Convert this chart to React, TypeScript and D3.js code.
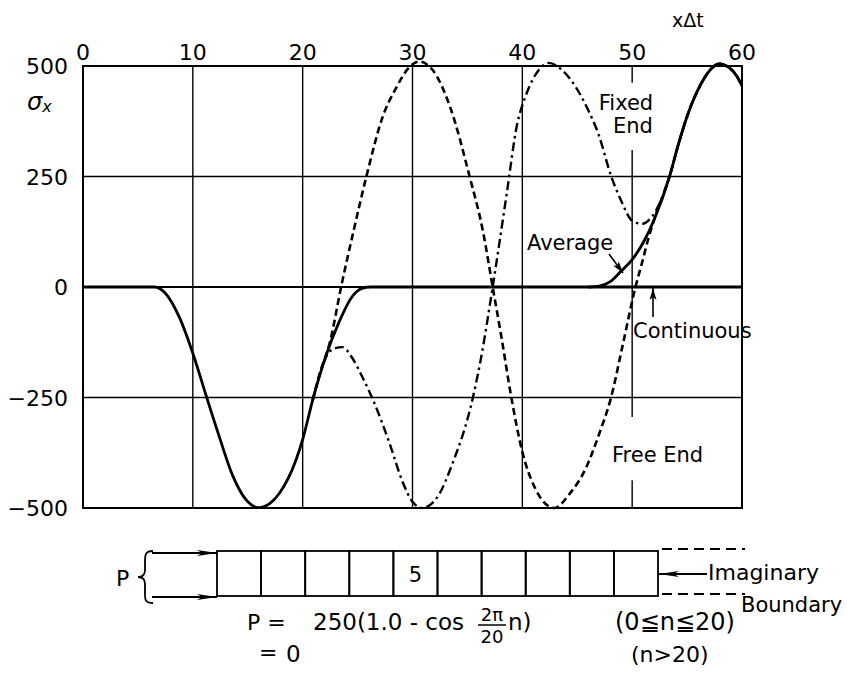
import React from "react";
import * as d3 from "d3";

// axis ticks
const xTicks = [0, 10, 20, 30, 40, 50, 60];
const yTicks = [500, 250, 0, -250, -500];
const yTickLabels = ["500", "250", "0", "\u2212250", "\u2212500"];

// sigma_x vs n (x delta t)
const continuous: [number, number][] = [
  [0, 0], [6.5, 0], [7.5, -14], [8.8, -70], [10, -150], [11.2, -245],
  [12.4, -338], [13.6, -425], [14.8, -480], [16, -499], [17, -490],
  [17.9, -466], [19.4, -391], [20, -345], [20.9, -257], [22.1, -157],
  [23.3, -80], [24.5, -22], [25.4, -3], [26.2, 0], [60, 0],
];

// all three "end" curves share this tail
const sharedTail: [number, number][] = [
  [53.4, 250], [54.2, 322], [55.1, 393], [56.3, 461], [57.2, 494],
  [57.9, 505], [58.8, 497], [59.5, 478], [60, 455],
];

const freeEndHead: [number, number][] = [
  [20.9, -257], [21.5, -200], [22.5, -123], [23.5, 0], [24.6, 123],
  [25.8, 250], [27.3, 386], [28.5, 450], [29.7, 497], [30.6, 510],
  [31.8, 492], [33.4, 409], [35.2, 250], [36.4, 128], [37.3, 0],
  [38.1, -114], [39, -250], [40, -373], [41.2, -457], [42.9, -500],
  [44.3, -468], [45.8, -409], [47, -332], [48.1, -248], [49.1, -136],
  [50.3, 0], [50.9, 55], [51.5, 112], [52.1, 160],
];

const fixedEndHead: [number, number][] = [
  [20.9, -257], [21.6, -195], [22.2, -155], [22.8, -140], [23.6, -136],
  [24.5, -160], [25.4, -202], [26.4, -255], [27.9, -353], [29.1, -441],
  [30, -486], [30.9, -500], [32.4, -470], [33.6, -402], [35.5, -250],
  [36.2, -166], [37.3, 0], [38.6, 215], [39.5, 365], [40.3, 432],
  [41.5, 491], [42.4, 507], [43.6, 491], [44.8, 455], [46, 400],
  [46.9, 348], [48.1, 250], [49, 195], [50, 150], [50.9, 143],
  [51.8, 159], [52.6, 195],
];

const averageHead: [number, number][] = [
  [46, 0], [47, 2], [48, 12], [49, 36], [50, 62], [51, 100], [52, 152],
];

const freeEnd = [...freeEndHead, ...sharedTail];
const fixedEnd = [...fixedEndHead, ...sharedTail];
const average = [...averageHead, ...sharedTail];

// bottom diagram: 10 elements, the 5th is labelled
const elements = d3.range(1, 11);
const labelledElement = 5;

const W = 847;
const H = 682;
const FONT = "'DejaVu Sans', sans-serif";

export default function App() {
  const x = d3.scaleLinear().domain([0, 60]).range([83, 742]);
  const y = d3.scaleLinear().domain([-500, 500]).range([508, 66]);

  const line = d3
    .line<[number, number]>()
    .x((d) => x(d[0]))
    .y((d) => y(d[1]))
    .curve(d3.curveMonotoneX);

  // element strip
  const strip = d3
    .scaleBand<number>()
    .domain(elements)
    .range([217, 658])
    .paddingInner(0);
  const stripTop = 551;
  const stripBot = 596;
  const stripMid = (stripTop + stripBot) / 2;

  // vertical grid at 50 is broken around labels
  const grid50Segments: [number, number][] = [
    [500, 462],
    [310, -294],
    [-437, -500],
  ];

  return (
    <svg
      width={W}
      height={H}
      style={{ position: "absolute", left: 0, top: 0, background: "#fff" }}
      fontFamily={FONT}
    >
      <defs>
        <marker
          id="longHead"
          viewBox="0 0 20 8"
          refX="20"
          refY="4"
          markerWidth="20"
          markerHeight="8"
          markerUnits="userSpaceOnUse"
          orient="auto"
        >
          <path d="M0,1 L20,4 L0,7 L5,4 z" fill="#000" />
        </marker>
        <marker
          id="shortHead"
          viewBox="0 0 12 8"
          refX="12"
          refY="4"
          markerWidth="12"
          markerHeight="8"
          markerUnits="userSpaceOnUse"
          orient="auto"
        >
          <path d="M0,0.5 L12,4 L0,7.5 L3,4 z" fill="#000" />
        </marker>
      </defs>

      <rect width={W} height={H} fill="#fff" />

      {/* grid */}
      {xTicks.slice(1, -1).map((t) =>
        t === 50 ? (
          grid50Segments.map(([a, b], i) => (
            <line
              key={`g50-${i}`}
              x1={x(t)}
              x2={x(t)}
              y1={y(a)}
              y2={y(b)}
              stroke="#000"
              strokeWidth={1.4}
            />
          ))
        ) : (
          <line
            key={`gx${t}`}
            x1={x(t)}
            x2={x(t)}
            y1={y(500)}
            y2={y(-500)}
            stroke="#000"
            strokeWidth={1.4}
          />
        )
      )}
      {yTicks.slice(1, -1).map((t) => (
        <line
          key={`gy${t}`}
          x1={x(0)}
          x2={x(60)}
          y1={y(t)}
          y2={y(t)}
          stroke="#000"
          strokeWidth={t === 0 ? 2.2 : 1.6}
        />
      ))}
      <rect
        x={x(0)}
        y={y(500)}
        width={x(60) - x(0)}
        height={y(-500) - y(500)}
        fill="none"
        stroke="#000"
        strokeWidth={2}
      />

      {/* tick labels */}
      {xTicks.map((t) => (
        <text key={`xt${t}`} x={x(t)} y={60} fontSize={22} textAnchor="middle">
          {t}
        </text>
      ))}
      {yTicks.map((t, i) => (
        <text
          key={`yt${t}`}
          x={68}
          y={y(t) + 8}
          fontSize={22}
          textAnchor="end"
        >
          {yTickLabels[i]}
        </text>
      ))}
      <text x={672} y={27} fontSize={19}>
        x&#916;t
      </text>
      <text x={27} y={110} fontSize={24} fontStyle="italic">
        &#963;
        <tspan fontSize={16} dy={2}>
          x
        </tspan>
      </text>

      {/* curves */}
      <path d={line(continuous) ?? ""} fill="none" stroke="#000" strokeWidth={2.8} />
      <path d={line(average) ?? ""} fill="none" stroke="#000" strokeWidth={2.8} />
      <path
        d={line(freeEnd) ?? ""}
        fill="none"
        stroke="#000"
        strokeWidth={2.6}
        strokeDasharray="7 4"
      />
      <path
        d={line(fixedEnd) ?? ""}
        fill="none"
        stroke="#000"
        strokeWidth={2.4}
        strokeDasharray="9 4 2.5 4"
      />

      {/* labels */}
      <text x={626} y={110} fontSize={21} textAnchor="middle">
        Fixed
      </text>
      <text x={633} y={133} fontSize={21} textAnchor="middle">
        End
      </text>
      <text x={527} y={250} fontSize={21}>
        Average
      </text>
      <line
        x1={609}
        y1={254}
        x2={623}
        y2={273}
        stroke="#000"
        strokeWidth={1.6}
        markerEnd="url(#shortHead)"
      />
      <line
        x1={653}
        y1={317}
        x2={653}
        y2={y(0) + 1}
        stroke="#000"
        strokeWidth={1.6}
        markerEnd="url(#shortHead)"
      />
      <text x={633} y={338} fontSize={21}>
        Continuous
      </text>
      <text x={612} y={462} fontSize={21}>
        Free End
      </text>

      {/* element strip */}
      {elements.map((e) => (
        <rect
          key={`el${e}`}
          x={strip(e)}
          y={stripTop}
          width={strip.bandwidth()}
          height={stripBot - stripTop}
          fill="none"
          stroke="#000"
          strokeWidth={1.8}
        />
      ))}
      <text
        x={(strip(labelledElement) ?? 0) + strip.bandwidth() / 2}
        y={stripMid + 8}
        fontSize={21}
        textAnchor="middle"
      >
        {labelledElement}
      </text>
      {[stripTop, stripBot].map((yy) => (
        <line
          key={`dash${yy}`}
          x1={662}
          x2={745}
          y1={yy - 2}
          y2={yy - 2}
          stroke="#000"
          strokeWidth={2}
          strokeDasharray="10 6"
        />
      ))}
      {[stripTop + 2, stripBot + 1].map((yy) => (
        <line
          key={`pa${yy}`}
          x1={152}
          x2={217}
          y1={yy}
          y2={yy}
          stroke="#000"
          strokeWidth={2}
          markerEnd="url(#longHead)"
        />
      ))}
      <path
        d="M153,551 C145,551 145,555 145,562 L145,570 C145,575 142,577 138,577 C142,577 145,579 145,584 L145,593 C145,600 145,603 153,603"
        fill="none"
        stroke="#000"
        strokeWidth={1.8}
      />
      <text x={116} y={586} fontSize={22}>
        P
      </text>
      <line
        x1={707}
        x2={659}
        y1={574}
        y2={574}
        stroke="#000"
        strokeWidth={1.8}
        markerEnd="url(#longHead)"
      />
      <text x={708} y={580} fontSize={22}>
        Imaginary
      </text>
      <text x={741} y={612} fontSize={21}>
        Boundary
      </text>

      {/* load formula */}
      <text x={247} y={630} fontSize={22}>
        P =
      </text>
      <text x={313} y={630} fontSize={23}>
        250(1.0 - cos
      </text>
      <text x={492} y={621} fontSize={18} textAnchor="middle">
        2&#960;
      </text>
      <line x1={478} x2={506} y1={625} y2={625} stroke="#000" strokeWidth={1.5} />
      <text x={492} y={643} fontSize={18} textAnchor="middle">
        20
      </text>
      <text x={508} y={630} fontSize={23}>
        n)
      </text>
      <text x={615} y={630} fontSize={24}>
        (0&#8806;n&#8806;20)
      </text>
      <text x={259} y={660} fontSize={22}>
        =
      </text>
      <text x={286} y={662} fontSize={23}>
        0
      </text>
      <text x={631} y={662} fontSize={22}>
        (n&gt;20)
      </text>
    </svg>
  );
}
